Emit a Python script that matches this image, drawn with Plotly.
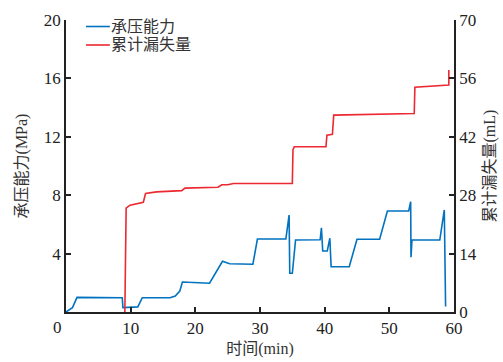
import plotly.graph_objects as go

# Bearing capacity (MPa) over time (min)
t_pressure = [0, 1.0, 1.7, 8.7, 8.8, 11.1, 11.8, 16.1, 16.9, 17.6, 18.0, 22.2,
              24.2, 25.3, 28.9, 29.6, 34.0, 34.5, 34.6, 35.0, 35.5, 39.3, 39.5,
              39.7, 40.4, 40.8, 41.0, 43.8, 45.0, 48.5, 49.7, 53.0, 53.3, 53.35,
              53.5, 57.8, 58.5, 58.7]
pressure = [0, 0.3, 1.0, 0.98, 0.3, 0.35, 0.98, 0.98, 1.1, 1.44, 2.05, 1.97,
            3.47, 3.3, 3.27, 5.0, 5.0, 6.64, 2.65, 2.65, 4.93, 4.95, 5.77,
            4.18, 4.18, 5.05, 3.1, 3.1, 4.98, 4.98, 6.92, 6.92, 7.55, 3.75,
            4.93, 4.93, 6.99, 0.37]

# Cumulative leakage (mL) over time (min)
t_leak = [9.1, 9.3, 9.9, 11.96, 12.3, 14.0, 17.9, 18.4, 23.5, 24.1, 25.0, 25.9,
          35.0, 35.1, 35.3, 40.2, 40.35, 41.2, 41.4, 53.85, 53.95, 59.2, 59.2]
leak = [0, 24.9, 25.6, 26.3, 28.4, 28.8, 29.1, 29.7, 29.9, 30.5, 30.5, 30.8,
        30.8, 38.9, 39.6, 39.6, 42.4, 42.6, 47.2, 47.6, 53.9, 54.4, 58.0]

x_ticks = [0, 10, 20, 30, 40, 50, 60]
y_ticks = [0, 4, 8, 12, 16, 20]
y2_ticks = [0, 14, 28, 42, 56, 70]

BLUE = "#0072C0"
RED = "#EC2830"
AX = "#222222"
SERIF = "Liberation Serif, Times New Roman, serif"
CJK = "Liberation Serif, Noto Sans CJK SC, serif"

fig = go.Figure()
fig.add_trace(go.Scatter(x=t_pressure, y=pressure, mode="lines", name="承压能力",
                         line=dict(color=BLUE, width=1.6), yaxis="y"))
fig.add_trace(go.Scatter(x=t_leak, y=leak, mode="lines", name="累计漏失量",
                         line=dict(color=RED, width=1.6), yaxis="y2"))

axis_common = dict(showgrid=False, zeroline=False, showline=True, linecolor=AX,
                   linewidth=1.5, ticks="inside", ticklen=5, tickwidth=1.5,
                   tickcolor=AX, automargin=False,
                   tickfont=dict(family=SERIF, size=17, color=AX))

fig.update_layout(
    width=503, height=362,
    margin=dict(l=66, r=49, t=20, b=50),
    paper_bgcolor="white", plot_bgcolor="white",
    showlegend=False,
    xaxis=dict(range=[0, 60], tickvals=x_ticks,
               ticktext=["" if v == 0 else str(v) for v in x_ticks],
               title=dict(text="时间(min)", standoff=6,
                          font=dict(family=CJK, size=16, color="#333")),
               **axis_common),
    yaxis=dict(range=[0, 20], tickvals=y_ticks,
               ticktext=["" if v == 0 else str(v) for v in y_ticks],
               title=dict(text="承压能力(MPa)", standoff=12,
                          font=dict(family=CJK, size=16, color="#333")),
               **axis_common),
    yaxis2=dict(range=[0, 70], tickvals=y2_ticks, overlaying="y", side="right",
                title=dict(text="累计漏失量(mL)", standoff=8,
                           font=dict(family=CJK, size=16, color="#333")),
                **axis_common),
)

# Origin label of the time axis, nudged left of the corner
fig.add_annotation(x=0, y=0, xref="x", yref="y", text="0", showarrow=False,
                   xanchor="center", yanchor="top", xshift=-9, yshift=-4,
                   font=dict(family=SERIF, size=17, color=AX))

# Legend drawn as line samples with labels
legend_rows = [("承压能力", BLUE, 0.9777), ("累计漏失量", RED, 0.9144)]
for label, color, yy in legend_rows:
    fig.add_shape(type="line", xref="paper", yref="paper", x0=0.0515, x1=0.113,
                  y0=yy, y1=yy, line=dict(color=color, width=1.6))
    fig.add_annotation(xref="paper", yref="paper", x=0.114, y=yy, text=label,
                       showarrow=False, xanchor="left", yanchor="middle",
                       borderpad=0,
                       font=dict(family=CJK, size=16, color="#333"))

fig.write_html("out.html")
